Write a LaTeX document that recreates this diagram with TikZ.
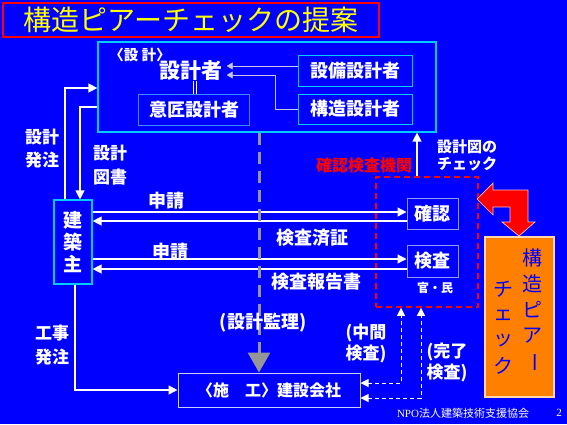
\documentclass[tikz,border=0pt]{standalone}
\usepackage{fontspec}
\setmainfont{Noto Sans CJK JP}
\newfontfamily\lib{Liberation Serif}
\usetikzlibrary{arrows.meta}
\definecolor{fond}{RGB}{0,0,255}
\definecolor{cyanbord}{RGB}{0,204,255}
\definecolor{ishobord}{RGB}{60,140,255}
\definecolor{lavande}{RGB}{150,150,255}
\definecolor{rouge}{RGB}{255,0,0}
\definecolor{jaune}{RGB}{255,255,0}
\definecolor{gris}{RGB}{150,150,150}
\definecolor{orangebox}{RGB}{255,128,0}
\definecolor{peche}{RGB}{255,215,170}
\definecolor{clair}{RGB}{200,200,230}
\newcommand\fsz[2]{\fontsize{#1}{#2}\selectfont\bfseries}
\begin{document}
\begin{tikzpicture}[x=1pt,y=-1pt,
  >={Triangle[length=9pt,width=9pt]},
  txt/.style={text=white,align=center,inner sep=0},
  boite/.style={draw=cyanbord,line width=1.2pt,text=white,inner sep=0},
  fil/.style={white,line width=1.3pt},
  mince/.style={clair,line width=0.9pt},
  pointille/.style={white,line width=1pt,dash pattern=on 4pt off 3pt,{Triangle[length=8pt,width=8pt]}-{Triangle[length=8pt,width=8pt]}},
  lettre/.style={text=fond,inner sep=0,font=\fontsize{20}{22}\selectfont}]
\fill[fond] (0,0) rectangle (567,424);
\useasboundingbox (0,0) rectangle (567,424);

\node[draw=rouge,line width=1.5pt,minimum width=376pt,minimum height=34pt,inner sep=0,text=jaune,font=\fontsize{28}{30}\selectfont] (titre) at (191,20) {構造ピアーチェックの提案};

\node[boite,minimum width=338pt,minimum height=90pt] (sekkei) at (267,87) {};
\node[txt,font=\fsz{14.5}{16}] (etiq) at (140,55) {〈設 計〉};
\node[txt,font=\fsz{21}{24},inner xsep=4pt] (sekkeisha) at (191,71) {設計者};
\node[boite,line width=1pt,minimum width=114pt,minimum height=31pt,font=\fsz{18}{20}] (setsubi) at (355,70.5) {設備設計者};
\node[boite,line width=1pt,minimum width=114pt,minimum height=30pt,font=\fsz{18}{20}] (kozo) at (355,109) {構造設計者};
\node[boite,draw=ishobord,line width=1pt,minimum width=111pt,minimum height=31pt,font=\fsz{18}{20}] (isho) at (194,109.5) {意匠設計者};

\node[boite,minimum width=38pt,minimum height=84pt,align=center,font=\fsz{19}{22}] (kenchikunushi) at (73,242) {建\\築\\主};
\node[boite,draw=lavande,line width=1pt,minimum width=51pt,minimum height=31pt,font=\fsz{18}{20}] (kakunin) at (432.5,213.5) {確認};
\node[boite,draw=lavande,line width=1pt,minimum width=51pt,minimum height=32pt,font=\fsz{18}{20}] (kensa) at (432.5,261) {検査};
\node[draw=rouge,line width=1.6pt,dash pattern=on 6pt off 4pt,minimum width=102pt,minimum height=130pt,inner sep=0] (kikan) at (427,242) {};
\node[boite,draw=white!80!fond,line width=1pt,minimum width=182pt,minimum height=34pt,font=\fsz{16}{18}] (kensetsu) at (269,390) {〈施　工〉建設会社};
\node[draw=peche,fill=orangebox,line width=1.8pt,minimum width=69pt,minimum height=160pt,inner sep=0] (peer) at (519.5,317) {};

\node[txt,font=\fsz{17}{23}] (hatchu) at (42,149) {設計\\発注};
\node[txt,font=\fsz{17}{24}] (zusho) at (110,165) {設計\\図書};
\node[txt,font=\fsz{18}{20}] (shinsei1) at (166,201) {申請};
\node[txt,font=\fsz{18}{20}] (shinsei2) at (170,252) {申請};
\node[txt,font=\fsz{18}{20}] (sumisho) at (312,238) {検査済証};
\node[txt,font=\fsz{18}{20}] (hokoku) at (316,282) {検査報告書};
\node[txt,text=rouge,font=\fsz{16}{18}] (kikanlabel) at (364,165) {確認検査機関};
\node[txt,font=\fsz{15}{17}] (check) at (467,155) {設計図の\\チェック};
\node[txt,font=\fsz{12}{14}] (kanmin) at (435,288) {官・民};
\node[txt,font=\fsz{17}{24}] (koji) at (52,345) {工事\\発注};
\node[txt,font=\fsz{17}{21}] (chukan) at (366,343) {(中間\\検査)};
\node[txt,font=\fsz{17}{21}] (kanryo) at (447,362) {(完了\\検査)};

\draw[fil,->] (kenchikunushi.north -| 65,0) |- (sekkei.west |- 0,88);
\draw[fil,->] (sekkei.west |- 0,107) -| (kenchikunushi.north -| 80,0);
\draw[fil,->] (kenchikunushi.south -| 75,0) |- (kensetsu.west);
\draw[fil,->] (kenchikunushi.east |- 0,212) -- (kakunin.west |- 0,212);
\draw[fil,<-] (kenchikunushi.east |- 0,221) -- (kakunin.west |- 0,221);
\draw[fil,->] (kenchikunushi.east |- 0,259) -- (kensa.west |- 0,259);
\draw[fil,<-] (kenchikunushi.east |- 0,269) -- (kensa.west |- 0,269);
\draw[fil,->] (kikan.north -| 417,0) -- (sekkei.south -| 417,0);

\draw[mince,-{Triangle[length=6pt,width=7pt]}] (setsubi.west |- 0,66) -- (sekkeisha.east |- 0,66);
\draw[mince,-{Triangle[length=6pt,width=7pt]}] (kozo.west) -| (275,75) -- (sekkeisha.east |- 0,75);
\draw[white,double=fond,double distance=2.5pt,line width=0.8pt] (sekkeisha.south -| 195,0) -- (isho.north -| 195,0);

\draw[pointille] (kensetsu.east |- 0,383) -| (kikan.south -| 401,0);
\draw[pointille] (kensetsu.east |- 0,398) -| (kikan.south -| 421,0);

\draw[gris,line width=3pt,dash pattern=on 12pt off 7pt,-{Triangle[length=20pt,width=22pt]}] (sekkei.south -| 259,0) -- (kensetsu.north -| 259,0);
\node[txt,font=\fsz{18}{20}] (kanri) at (263,323) {(設計監理)};

\filldraw[fill=rouge,draw=white!75!rouge,line width=0.7pt] (477,199) -- (493,183) -- (493,190) -- (528,190) -- (528,222) -- (535,222) -- (519,236) -- (502,222) -- (510,222) -- (510,207) -- (493,207) -- (493,215) -- cycle;

\foreach \c [count=\i] in {構,造,ピ,ア}
{
\node[lettre] (d\i) at (532,232+26*\i) {\c};
}
\node[lettre,rotate=-90] (d5) at (532,362) {ー};
\foreach \c [count=\i] in {チ,ェ,ッ,ク}
{
\node[lettre] (g\i) at (503,264+25.5*\i) {\c};
}

\node[txt,font=\fontsize{11}{13}\selectfont] (pied) at (463,413) {{\lib NPO}法人建築技術支援協会};
\node[txt,font=\lib\fontsize{11}{13}\selectfont] (page) at (559,413) {2};
\end{tikzpicture}
\end{document}
